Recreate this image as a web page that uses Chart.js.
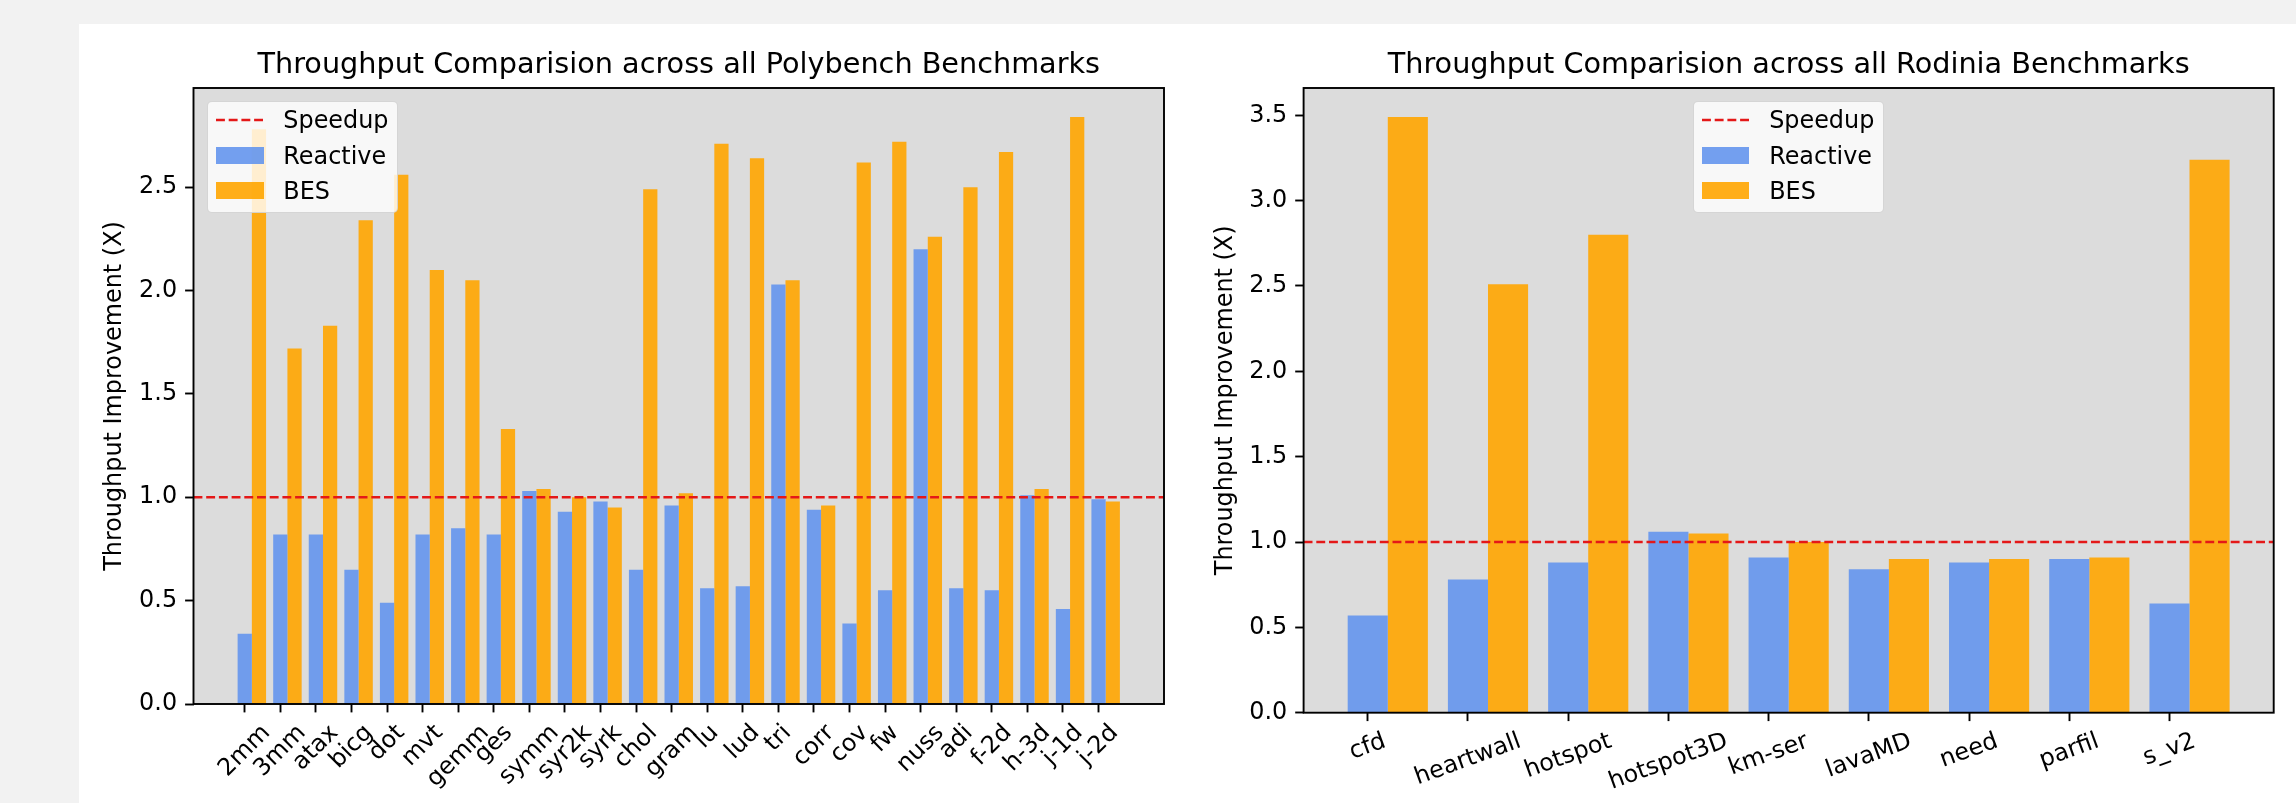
<!DOCTYPE html>
<html>
<head>
<meta charset="utf-8">
<script src="https://cdn.jsdelivr.net/npm/chart.js@4.4.1/dist/chart.umd.min.js"></script>
<style>
  html, body { margin:0; padding:0; width:2296px; height:803px; overflow:hidden; background:#f2f2f2; font-family:"DejaVu Sans", sans-serif; }
  #card { position:absolute; left:79px; top:24px; width:2217px; height:779px; background:#ffffff; }
  canvas { position:absolute; top:0; }
  #c1 { left:0; }
  #c2 { left:1170px; }
  .lg { position:absolute; box-sizing:border-box; width:191px; height:112px; background:rgba(255,255,255,0.8); border:1px solid rgba(204,204,204,0.8); border-radius:5px; }
  .lg .h { position:absolute; }
  .lg .t { position:absolute; font-size:23.9px; line-height:28px; color:#000; white-space:nowrap; font-family:"DejaVu Sans", sans-serif; }
</style>
</head>
<body>
<div id="card"></div>
<canvas id="c1" width="1170" height="803"></canvas>
<canvas id="c2" width="1126" height="803"></canvas>
<script>
// ---------------- data ----------------
const polyCats = ['2mm','3mm','atax','bicg','dot','mvt','gemm','ges','symm','syr2k','syrk','chol','gram','lu','lud','tri','corr','cov','fw','nuss','adi','f-2d','h-3d','j-1d','j-2d'];
const polyReactive = [0.34,0.82,0.82,0.65,0.49,0.82,0.85,0.82,1.03,0.93,0.98,0.65,0.96,0.56,0.57,2.03,0.94,0.39,0.55,2.20,0.56,0.55,1.01,0.46,0.99];
const polyBES = [2.78,1.72,1.83,2.34,2.56,2.10,2.05,1.33,1.04,1.00,0.95,2.49,1.02,2.71,2.64,2.05,0.96,2.62,2.72,2.26,2.50,2.67,1.04,2.84,0.98];

const rodCats = ['cfd','heartwall','hotspot','hotspot3D','km-ser','lavaMD','need','parfil','s_v2'];
const rodReactive = [0.57,0.78,0.88,1.06,0.91,0.84,0.88,0.90,0.64];
const rodBES = [3.49,2.51,2.80,1.05,1.00,0.90,0.90,0.91,3.24];

const SPEEDUP = 1.0;
const polyTitle = 'Throughput Comparision across all Polybench Benchmarks';
const rodTitle = 'Throughput Comparision across all Rodinia Benchmarks';
const yTitle = 'Throughput Improvement (X)';

// ---------------- style ----------------
const FONT = "'DejaVu Sans', sans-serif";
const FS = 23.9;
const BLUE = 'rgba(100,149,237,0.9)';
const ORANGE = 'rgba(255,165,0,0.9)';
const RED = 'rgb(228,24,24)';
Chart.defaults.font.family = FONT;
Chart.defaults.color = '#000';

// plot background + frame
const plotFrame = {
  id: 'plotFrame',
  beforeDraw(chart) {
    const {ctx, chartArea: a} = chart;
    ctx.save();
    ctx.fillStyle = '#dcdcdc';
    ctx.fillRect(a.left, a.top, a.right - a.left, a.bottom - a.top);
    ctx.restore();
  },
  afterDatasetsDraw(chart) {
    const {ctx, chartArea: a} = chart;
    ctx.save();
    ctx.strokeStyle = '#000';
    ctx.lineWidth = 1.9;
    ctx.strokeRect(a.left, a.top, a.right - a.left, a.bottom - a.top);
    ctx.restore();
  }
};

// matplotlib-like placement of rotated x tick labels (centred rotated bbox)
const mplXLabels = {
  id: 'mplXLabels',
  beforeDraw(chart, args, opts) {
    const sc = chart.scales.x;
    const items = sc.getLabelItems(chart.chartArea);
    const ctx = chart.ctx;
    const rot = opts.angle * Math.PI / 180;
    const h = FS * 1.0;
    const y0 = chart.chartArea.bottom + opts.gap;
    items.forEach((it, i) => {
      ctx.save();
      ctx.font = it.font.string;
      const w = ctx.measureText(it.label).width;
      ctx.restore();
      const hv = w * Math.sin(rot) + h * Math.cos(rot);
      const px = sc.getPixelForTick(i);
      it.options.translation = [px, y0 + hv / 2];
      it.options.textAlign = 'center';
      it.options.textBaseline = 'middle';
      it.textOffset = 0;
    });
  }
};

function makeChart(canvas, cfg) {
  const tickFont = {size: FS, family: FONT};
  const gridCfg = {display: true, offset: false, drawOnChartArea: false, drawTicks: true, tickLength: 8.4, tickColor: '#000', tickWidth: 1.9};
  return new Chart(canvas, {
    type: 'bar',
    data: {
      datasets: [
        {type: 'line', label: 'Speedup', data: [{x: cfg.xMin, y: SPEEDUP}, {x: cfg.xMax, y: SPEEDUP}],
         borderColor: RED, backgroundColor: RED, borderWidth: 2.4, borderDash: [8.9, 3.8], pointRadius: 0, order: 0},
        {label: 'Reactive', data: cfg.reactive.map((v, i) => ({x: i + 0.2, y: v})), backgroundColor: BLUE,
         borderWidth: 0, categoryPercentage: 0.8, barPercentage: 1.0, order: 1},
        {label: 'BES', data: cfg.bes.map((v, i) => ({x: i + 0.2, y: v})), backgroundColor: ORANGE,
         borderWidth: 0, categoryPercentage: 0.8, barPercentage: 1.0, order: 1}
      ]
    },
    options: {
      responsive: false, animation: false, devicePixelRatio: 1,
      layout: {padding: cfg.pad},
      scales: {
        x: {
          type: 'linear', min: cfg.xMin, max: cfg.xMax, bounds: 'data', offset: false,
          afterBuildTicks: (s) => { s.ticks = cfg.cats.map((c, i) => ({value: i})); },
          afterFit: (s) => { s.height = cfg.xH; },
          ticks: {autoSkip: false, minRotation: cfg.rot, maxRotation: cfg.rot, font: tickFont, color: '#000',
                  callback: (v) => cfg.cats[v], padding: 8},
          grid: gridCfg,
          border: {display: false}
        },
        y: {
          type: 'linear', min: 0, max: cfg.yMax, bounds: 'data',
          afterFit: (s) => { s.width = cfg.yW; },
          ticks: {stepSize: 0.5, includeBounds: false, callback: (v) => Number(v).toFixed(1), font: tickFont, color: '#000', padding: 8},
          grid: gridCfg,
          border: {display: false},
          title: {display: true, text: yTitle, font: tickFont, color: '#000', padding: {top: cfg.yTitlePad, bottom: 0}}
        }
      },
      plugins: {
        legend: {display: false},
        tooltip: {enabled: false},
        title: {display: true, text: cfg.title, fullSize: false, color: '#000',
                font: {size: 28.7, family: FONT, weight: 'normal'}, padding: {top: 48, bottom: 5.56}},
        mplXLabels: {angle: cfg.rot, gap: 16.8}
      }
    },
    plugins: [plotFrame, mplXLabels]
  });
}

function htmlLegend(chart, canvasLeft, mode) {
  const a = chart.chartArea;
  const box = document.createElement('div');
  box.className = 'lg';
  const W = 191;
  const left = mode === 'left' ? canvasLeft + a.left + 13.8 : canvasLeft + (a.left + a.right) / 2 - W / 2;
  box.style.left = left + 'px';
  box.style.top = (a.top + 13) + 'px';
  const metas = chart.getSortedVisibleDatasetMetas();
  metas.forEach((m, i) => {
    const ds = chart.data.datasets[m.index];
    const cy = 18 + i * 35.3;
    let h;
    if (m.type === 'line') {
      h = document.createElementNS('http://www.w3.org/2000/svg', 'svg');
      h.setAttribute('width', '48'); h.setAttribute('height', '6');
      h.setAttribute('class', 'h');
      h.style.left = '7.5px'; h.style.top = (cy - 3) + 'px'; h.style.position = 'absolute';
      const ln = document.createElementNS('http://www.w3.org/2000/svg', 'line');
      ln.setAttribute('x1', '0'); ln.setAttribute('x2', '47.8'); ln.setAttribute('y1', '3'); ln.setAttribute('y2', '3');
      ln.setAttribute('stroke', ds.borderColor); ln.setAttribute('stroke-width', ds.borderWidth);
      ln.setAttribute('stroke-dasharray', ds.borderDash.join(' '));
      h.appendChild(ln);
    } else {
      h = document.createElement('div');
      h.className = 'h';
      h.style.left = '7.5px'; h.style.top = (cy - 8.35) + 'px';
      h.style.width = '47.8px'; h.style.height = '16.7px';
      h.style.background = ds.backgroundColor;
    }
    box.appendChild(h);
    const t = document.createElement('div');
    t.className = 't';
    t.textContent = ds.label;
    t.style.left = '75px';
    t.style.top = (cy - 13.6) + 'px';
    box.appendChild(t);
  });
  document.body.appendChild(box);
}

const c1 = makeChart(document.getElementById('c1'), {
  cats: polyCats, reactive: polyReactive, bes: polyBES, title: polyTitle,
  xMin: -1.44, xMax: 25.84, yMax: 2.98, rot: 45,
  pad: {left: 90, right: 6, top: 0, bottom: 0}, yW: 103.5, xH: 99, yTitlePad: 10.9
});
const c2 = makeChart(document.getElementById('c2'), {
  cats: rodCats, reactive: rodReactive, bes: rodBES, title: rodTitle,
  xMin: -0.64, xMax: 9.04, yMax: 3.66, rot: 20,
  pad: {left: 30, right: 22.3, top: 0, bottom: 0}, yW: 103.6, xH: 90.3, yTitlePad: 11.9
});
htmlLegend(c1, 0, 'left');
htmlLegend(c2, 1170, 'center');
</script>
</body>
</html>
